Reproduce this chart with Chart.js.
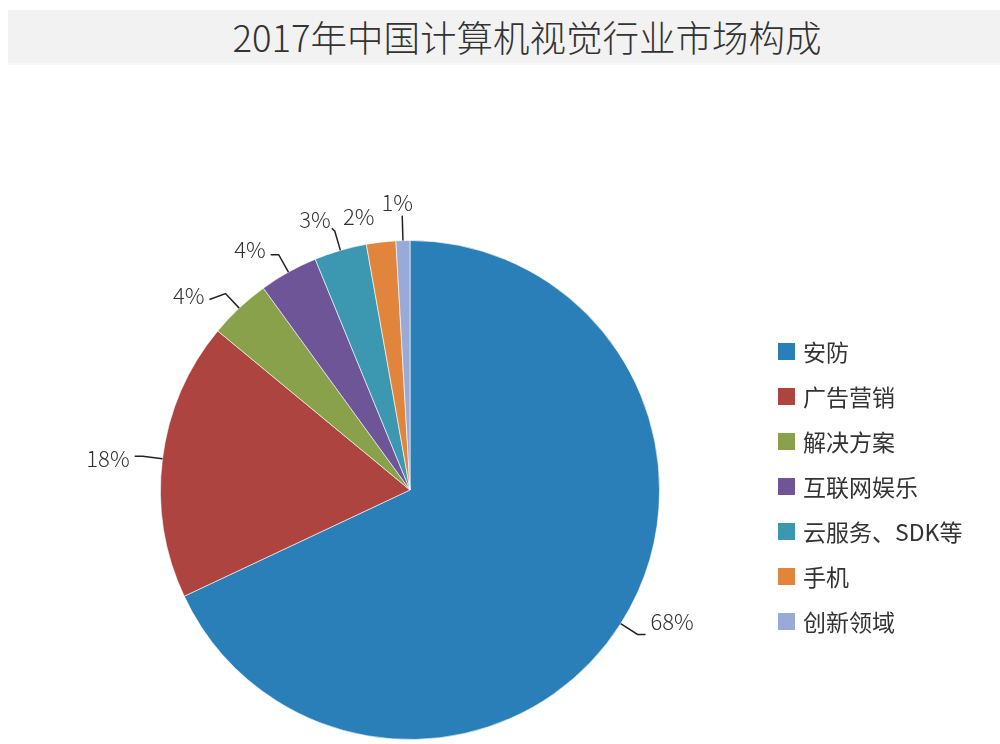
<!DOCTYPE html>
<html>
<head>
<meta charset="utf-8">
<script src="https://cdn.jsdelivr.net/npm/chart.js@4/dist/chart.umd.min.js"></script>
<style>
  html, body { margin: 0; padding: 0; background: #fff; }
  body { width: 1000px; height: 744px; position: relative; overflow: hidden;
         font-family: "Noto Sans CJK SC", "Noto Sans", sans-serif; }
  #title { position: absolute; left: 8px; top: 10px; width: 992px; height: 55px;
           background: #f2f2f2; border-bottom: 2px solid #f8f8f8; box-sizing: border-box;
           color: #333; font-size: 36.5px; font-weight: 300; line-height: 54px; text-align: center; padding-left: 46px; }
  #wrap { position: absolute; left: 0; top: 0; width: 1000px; height: 744px; }
  #legend { position: absolute; left: 778px; top: 336px; }
  .item { height: 45px; display: flex; align-items: flex-start; font-size: 23px; color: #333; line-height: 30px; }
  .box { width: 17px; height: 17px; margin-top: 7px; margin-right: 8px; }
</style>
</head>
<body>
<div id="wrap"><canvas id="c" width="1000" height="744"></canvas></div>
<div id="title">2017年中国计算机视觉行业市场构成</div>
<div id="legend"></div>
<script>
const labels = ["安防", "广告营销", "解决方案", "互联网娱乐", "云服务、SDK等", "手机", "创新领域"];
const values = [68, 18, 4, 3.8, 3.4, 1.9, 0.9];
const colors = ["#2a7fb8", "#ad4440", "#8aa14b", "#6e5597", "#3c97b0", "#e0853b", "#9aaad8"];

// leader lines + percent labels
const pieLabels = {
  id: "pieLabels",
  afterDatasetsDraw(chart) {
    const ctx = chart.ctx;
    const meta = chart.getDatasetMeta(0);
    const total = values.reduce((a, b) => a + b, 0);
    ctx.save();
    ctx.font = "300 22px 'Noto Sans CJK SC', 'Noto Sans', sans-serif";
    ctx.fillStyle = "#333";
    ctx.strokeStyle = "#222";
    ctx.lineWidth = 1.5;
    ctx.textBaseline = "middle";
    meta.data.forEach((arc, i) => {
      const { x, y, startAngle, endAngle, outerRadius } = arc.getProps(["x", "y", "startAngle", "endAngle", "outerRadius"], true);
      const mid = (startAngle + endAngle) / 2;
      const cos = Math.cos(mid), sin = Math.sin(mid);
      const len = i === 6 ? 25 : 20;
      const x1 = x + cos * outerRadius, y1 = y + sin * outerRadius;
      const x2 = x + cos * (outerRadius + len), y2 = y + sin * (outerRadius + len);
      const dir = cos >= 0 ? 1 : -1;
      const txt = Math.round(values[i] / total * 100) + "%";
      ctx.beginPath();
      if (i === 6) {
        ctx.moveTo(x1, y1); ctx.lineTo(x2, y2); ctx.stroke();
        ctx.textAlign = "center";
        ctx.fillText(txt, x2 - 5, y2 - 13);
      } else if (i === 5) {
        // tiny orange slice: label only
        ctx.textAlign = "center";
        ctx.fillText(txt, x2 - 20, y2 - 6);
      } else if (i === 4) {
        ctx.moveTo(x1, y1); ctx.lineTo(x2, y2); ctx.lineTo(x2 - 3, y2 - 3); ctx.stroke();
        ctx.textAlign = "right";
        ctx.fillText(txt, x2 - 4, y2 - 12);
      } else {
        const h = i === 2 ? 16 : 8;
        ctx.moveTo(x1, y1); ctx.lineTo(x2, y2); ctx.lineTo(x2 + dir * h, y2 + (i === 2 ? 6 : 0)); ctx.stroke();
        ctx.textAlign = dir > 0 ? "left" : "right";
        ctx.fillText(txt, x2 + dir * (h + 5), y2 + (i === 0 ? -13 : i === 1 ? 2 : i === 2 ? 2 : -5));
      }
    });
    ctx.restore();
  }
};

new Chart(document.getElementById("c"), {
  type: "pie",
  data: {
    labels,
    datasets: [{ data: values, backgroundColor: colors, borderColor: "rgba(255,255,255,0.6)", borderWidth: 1 }]
  },
  options: {
    responsive: false,
    animation: false,
    layout: { padding: { left: 160, right: 340, top: 240, bottom: 4 } },
    plugins: { legend: { display: false }, tooltip: { enabled: false } }
  },
  plugins: [pieLabels]
});

// custom legend
const legend = document.getElementById("legend");
labels.forEach((l, i) => {
  const row = document.createElement("div");
  row.className = "item";
  row.innerHTML = '<span class="box" style="background:' + colors[i] + '"></span><span>' + l + '</span>';
  legend.appendChild(row);
});
</script>
</body>
</html>
